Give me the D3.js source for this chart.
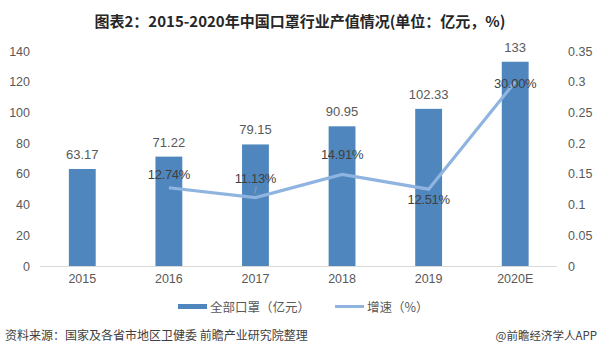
<!DOCTYPE html>
<html><head><meta charset="utf-8">
<script src="https://cdn.jsdelivr.net/npm/d3@7/dist/d3.min.js"></script>
<style>body{margin:0;background:#fff;}svg{display:block;font-family:"Liberation Sans","Noto Sans CJK SC",sans-serif;}</style>
</head><body><svg id="c" width="600" height="359"></svg>
<script>
const years = ["2015","2016","2017","2018","2019","2020E"];
const output = [63.17,71.22,79.15,90.95,102.33,133];
const growthYears = ["2016","2017","2018","2019","2020E"];
const growth = [0.1274,0.1113,0.1491,0.1251,0.30];
const growthLabels = ["12.74%","11.13%","14.91%","12.51%","30.00%"];
const leftTicks = [0,20,40,60,80,100,120,140];
const rightTicks = [0,0.05,0.1,0.15,0.2,0.25,0.3,0.35];

const svg = d3.select("#c");
const x = d3.scaleBand().domain(years).range([39,558.5]).paddingInner(0.69).paddingOuter(0.345);
const yL = d3.scaleLinear().domain([0,140]).range([266,51]);
const yR = d3.scaleLinear().domain([0,0.35]).range([266,51]);
const cx = d => x(d)+x.bandwidth()/2;

svg.append("text").attr("x",300).attr("y",27).attr("text-anchor","middle")
  .attr("font-size",15).attr("font-weight","bold").attr("fill","#262626")
  .attr("font-family","'Noto Sans CJK SC',sans-serif")
  .text("图表2：2015-2020年中国口罩行业产值情况(单位：亿元，%)");

// left axis
const la = svg.append("g").attr("transform","translate(30,0)")
  .call(d3.axisLeft(yL).tickValues(leftTicks).tickSize(0).tickPadding(0));
la.select(".domain").remove();
la.selectAll("text").attr("font-size",12.5).attr("fill","#595959").attr("font-family","'Liberation Sans',sans-serif");
// right axis
const ra = svg.append("g").attr("transform","translate(568,0)")
  .call(d3.axisRight(yR).tickValues(rightTicks).tickFormat(d=>String(+d.toFixed(2))).tickSize(0).tickPadding(0));
ra.select(".domain").remove();
ra.selectAll("text").attr("font-size",12.5).attr("fill","#595959").attr("font-family","'Liberation Sans',sans-serif");

// bars
svg.selectAll("rect.bar").data(years).join("rect").attr("class","bar")
  .attr("x",d=>x(d)).attr("width",x.bandwidth())
  .attr("y",(d,i)=>yL(output[i])).attr("height",(d,i)=>yL(0)-yL(output[i]))
  .attr("fill","#4e86bd");

// baseline
svg.append("line").attr("x1",40).attr("x2",557).attr("y1",266.5).attr("y2",266.5)
  .attr("stroke","#d9d9d9").attr("stroke-width",1);

// x labels
const xa = svg.append("g").attr("transform","translate(0,274)")
  .call(d3.axisBottom(x).tickSize(0).tickPadding(0));
xa.select(".domain").remove();
xa.selectAll("text").attr("font-size",12.5).attr("fill","#595959").attr("font-family","'Liberation Sans',sans-serif");

// bar labels
svg.selectAll("text.bl").data(years).join("text").attr("class","bl")
  .attr("x",d=>cx(d)).attr("y",(d,i)=>yL(output[i])-10)
  .attr("text-anchor","middle").attr("font-size",13).attr("fill","#595959")
  .text((d,i)=>output[i]);

// line
const line = d3.line().x(d=>cx(d[0])).y(d=>yR(d[1]));
svg.append("path").datum(growthYears.map((d,i)=>[d,growth[i]]))
  .attr("d",line).attr("fill","none").attr("stroke","#8fb4e0").attr("stroke-width",3.2)
  .attr("stroke-linejoin","miter");

// leader line 2017
svg.append("line").attr("x1",cx("2017")-1).attr("x2",cx("2017")+1)
  .attr("y1",yR(growth[1])-4).attr("y2",yR(growth[1])-11)
  .attr("stroke","#a6a6a6").attr("stroke-width",0.8);

// growth labels
const gOff = [-14,-20,-20,10,1];
svg.selectAll("text.gl").data(growthYears).join("text").attr("class","gl")
  .attr("x",d=>cx(d)).attr("y",(d,i)=>yR(growth[i])+gOff[i]+5)
  .attr("text-anchor","middle").attr("font-size",13).attr("fill","#404040")
  .attr("letter-spacing",-0.3)
  .text((d,i)=>growthLabels[i]);

// legend
svg.append("rect").attr("x",178).attr("y",304).attr("width",29).attr("height",5).attr("fill","#4e86bd");
svg.append("text").attr("x",210).attr("y",311.5).attr("font-size",12.5).attr("fill","#595959")
  .attr("font-family","'Noto Sans CJK SC',sans-serif").text("全部口罩（亿元）");
svg.append("line").attr("x1",335).attr("x2",364).attr("y1",306.5).attr("y2",306.5)
  .attr("stroke","#8fb4e0").attr("stroke-width",3);
svg.append("text").attr("x",367).attr("y",311.5).attr("font-size",12.5).attr("fill","#595959")
  .attr("font-family","'Noto Sans CJK SC',sans-serif").text("增速（%）");

// footer
svg.append("text").attr("x",5).attr("y",340).attr("font-size",12).attr("fill","#404040")
  .attr("font-family","'Noto Sans CJK SC',sans-serif").text("资料来源：国家及各省市地区卫健委 前瞻产业研究院整理");
svg.append("text").attr("x",597).attr("y",340).attr("text-anchor","end").attr("font-size",11.5).attr("fill","#404040")
  .attr("font-family","'Noto Sans CJK SC',sans-serif").text("@前瞻经济学人APP");
</script></body></html>
